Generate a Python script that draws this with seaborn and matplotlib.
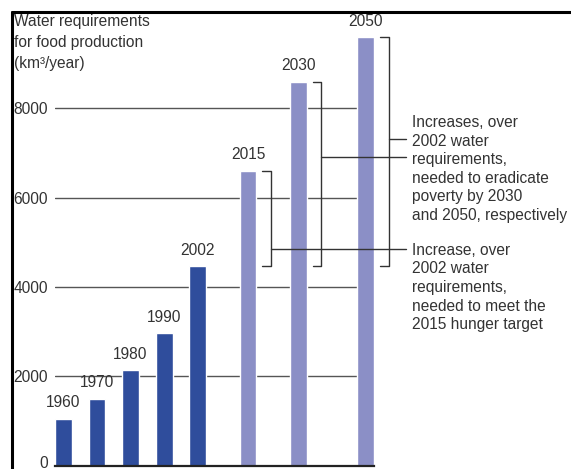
import numpy as np
import pandas as pd
import seaborn as sns
import matplotlib.pyplot as plt
import matplotlib.transforms as mtransforms
from matplotlib.lines import Line2D

# ======== data =========
years = ["1960", "1970", "1980", "1990", "2002", "2015", "2030", "2050"]
water = [1050, 1500, 2140, 2970, 4470, 6600, 8600, 9600]   # km3/year
period = ["past", "past", "past", "past", "past", "target", "target", "target"]
yticks = [0, 2000, 4000, 6000, 8000]

title = "Water requirements\nfor food production\n(km\u00b3/year)"
note_poverty = ("Increases, over\n2002 water\nrequirements,\nneeded to eradicate\n"
                "poverty by 2030\nand 2050, respectively")
note_hunger = ("Increase, over\n2002 water\nrequirements,\nneeded to meet the\n"
               "2015 hunger target")

# ======== layout =========
slots = [0, 1, 2, 3, 4, 5.5, 7, 9]          # horizontal placement of bars
link_y = {"2015": 4850, "2030": 6910, "2050": 7310}   # where brackets meet the notes
link_end = 10.2
note_x = 10.39

colors = {"past": "#2f4d9c", "target": "#8b8fc6"}
ink = "#333333"
fs = 11.2

sns.set_style("white")
plt.rcParams['font.family'] = ['Liberation Sans', 'DejaVu Sans']

df = pd.DataFrame({"slot": slots, "water": water, "period": period, "year": years})

fig = plt.figure(figsize=(5.71, 4.69), dpi=100)
ax = fig.add_axes([55 / 571, 3.5 / 469, 319 / 571, 446.5 / 469])

sns.barplot(data=df, x="slot", y="water", hue="period", palette=colors,
            native_scale=True, dodge=False, width=0.5, errorbar=None,
            saturation=1, legend=False, ax=ax, zorder=2)

ax.set_xlim(-0.25, 9.25)
ax.set_ylim(0, 10000)
ax.set_xticks([])
ax.set_yticks(yticks)
ax.set_yticklabels([str(t) for t in yticks], fontsize=fs, color=ink)
ax.tick_params(axis="y", length=0, pad=5)
# lift the "0" so it stays inside the picture
lab0 = ax.get_yticklabels()[0]
lab0.set_transform(lab0.get_transform() +
                   mtransforms.ScaledTranslation(0, 4 / 100, fig.dpi_scale_trans))
ax.set_xlabel("")
ax.set_ylabel("")
ax.yaxis.grid(True, color="#555555", linewidth=1)
ax.set_axisbelow(True)
for side in ["top", "right", "left"]:
    ax.spines[side].set_visible(False)
ax.spines["bottom"].set_color("#222222")
ax.spines["bottom"].set_linewidth(1.6)

# year labels
for s, v, y in zip(slots, water, years):
    ax.annotate(y, (s, v), xytext=(0, 6), textcoords="offset points",
                ha="center", va="bottom", fontsize=fs, color=ink)

# brackets from 2002 level up to each target bar
base = water[years.index("2002")]
for s, v, y in zip(slots, water, years):
    if y not in link_y:
        continue
    ax.plot([s + 0.42, s + 0.685, s + 0.685, s + 0.42], [v, v, base, base],
            color=ink, lw=1.0, clip_on=False, zorder=3)
    ax.plot([s + 0.685, link_end], [link_y[y], link_y[y]],
            color=ink, lw=1.0, clip_on=False, zorder=3)

ax.text(note_x, 6641, note_poverty, ha="left", va="center", fontsize=fs,
        color=ink, linespacing=1.3, clip_on=False)
ax.text(note_x, 3987, note_hunger, ha="left", va="center", fontsize=fs,
        color=ink, linespacing=1.31, clip_on=False)

fig.text(14 / 571, 1 - 14 / 469, title, ha="left", va="top", fontsize=fs,
         color=ink, linespacing=1.5)

# frame of the original figure
fig.add_artist(Line2D([12 / 571, 12 / 571], [0, 1 - 12 / 469],
                      transform=fig.transFigure, color="black", lw=2.2))
fig.add_artist(Line2D([12 / 571, 1], [1 - 12 / 469, 1 - 12 / 469],
                      transform=fig.transFigure, color="black", lw=2.2))

fig.savefig("out.png", dpi=100)
